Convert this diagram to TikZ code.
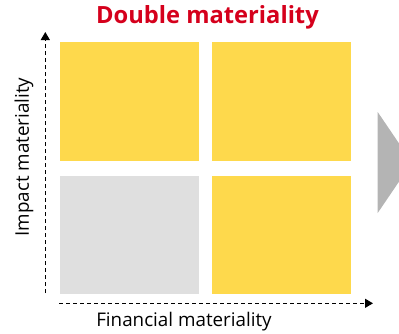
\documentclass[tikz,border=0pt]{standalone}
\usepackage{fontspec}
\setmainfont{Open Sans}
\usetikzlibrary{positioning,arrows.meta}
\definecolor{matyellow}{RGB}{254,217,76}
\definecolor{matgrey}{RGB}{223,223,223}
\definecolor{arrowgrey}{RGB}{180,180,180}
\definecolor{matred}{RGB}{213,0,28}
\tikzset{
  cell/.style={minimum width=139pt, minimum height=118.7pt, inner sep=0pt, anchor=north west},
  yellowcell/.style={cell, fill=matyellow},
  greycell/.style={cell, fill=matgrey},
  axis/.style={line width=1.3pt, dash pattern=on 4pt off 3pt, -{Triangle[length=8pt,width=9pt]}},
  axislabel/.style={font=\fontsize{18.8}{21}\selectfont},
}
\begin{document}
\begin{tikzpicture}[x=1pt,y=-1pt]
  \useasboundingbox (0,0) rectangle (399,333);
  % the four quadrants
  \node (hilo) [yellowcell] at (60,42) {};
  \node (hihi) [yellowcell, right=12.3pt of hilo.north east, anchor=north west] {};
  \node (lolo) [greycell, below=14.3pt of hilo.south west, anchor=north west] {};
  \node (lohi) [yellowcell, below=14.3pt of hihi.south west, anchor=north west] {};

  \node (title) [font=\fontsize{23.7}{26}\selectfont\bfseries, text=matred] at (207.5,17) {Double materiality};

  % axes
  \coordinate (yfoot) at (45.3,293);
  \coordinate (ytip) at (45.3,32);
  \coordinate (xfoot) at (59,303.3);
  \coordinate (xtip) at (373,303.3);
  \draw [axis] (yfoot) -- (ytip);
  \draw [axis] (xfoot) -- (xtip);

  \node (implabel) [axislabel, rotate=90] at (24,157) {Impact materiality};
  \node (finlabel) [axislabel] at (184,322) {Financial materiality};

  % next step arrow, cut by the page edge
  \fill [arrowgrey] (377.7,112) -- (412,162.5) -- (377.7,213) -- cycle;
\end{tikzpicture}
\end{document}
